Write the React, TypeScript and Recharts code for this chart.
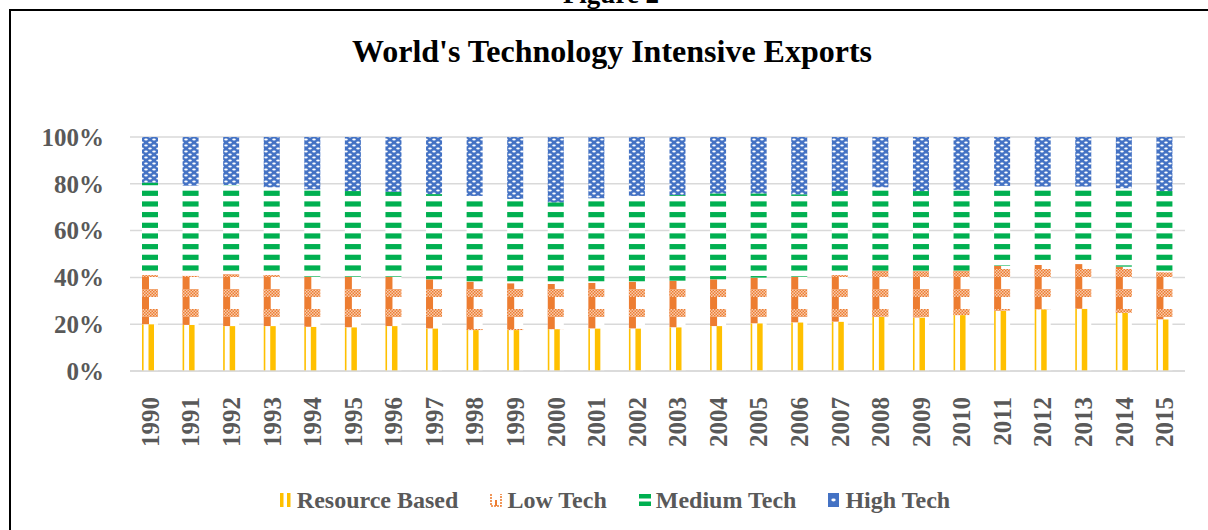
import React from "react";
import { BarChart, Bar, XAxis, YAxis, CartesianGrid } from "recharts";

const years = [
  "1990", "1991", "1992", "1993", "1994", "1995", "1996", "1997", "1998", "1999",
  "2000", "2001", "2002", "2003", "2004", "2005", "2006", "2007", "2008", "2009",
  "2010", "2011", "2012", "2013", "2014", "2015",
];

// shares in % of world exports
const resourceBased = [
  20.0, 19.7, 19.2, 19.2, 18.9, 18.7, 19.2, 18.2, 17.5, 17.5,
  17.9, 18.2, 18.2, 18.7, 19.2, 20.4, 20.8, 21.1, 23.2, 22.9,
  23.9, 25.8, 26.4, 26.6, 24.9, 22.1,
];
const lowTech = [
  21.0, 21.0, 22.2, 21.8, 21.4, 21.6, 21.1, 21.0, 20.7, 20.0,
  19.3, 19.5, 20.0, 19.9, 20.0, 19.5, 19.5, 19.9, 19.7, 19.8,
  19.0, 19.1, 18.9, 19.1, 19.7, 20.1,
];
const mediumTech = [
  39.5, 38.5, 38.1, 37.5, 37.3, 36.6, 36.3, 36.4, 36.6, 36.0,
  34.9, 36.1, 36.6, 36.6, 36.7, 36.0, 35.2, 35.9, 35.6, 34.2,
  34.5, 34.2, 33.5, 33.1, 33.5, 34.7,
];
const highTech = [
  19.5, 20.8, 20.5, 21.5, 22.4, 23.1, 23.4, 24.4, 25.2, 26.5,
  27.9, 26.2, 25.2, 24.8, 24.1, 24.1, 24.5, 23.1, 21.5, 23.1,
  22.6, 20.9, 21.2, 21.2, 21.9, 23.1,
];
const yTicks = [0, 0.2, 0.4, 0.6, 0.8, 1];

const data = years.map((year, i) => ({
  year,
  res: resourceBased[i],
  low: lowTech[i],
  med: mediumTech[i],
  high: highTech[i],
}));

const YELLOW = "#FFC000";
const ORANGE = "#ED7D31";
const GREEN = "#00B050";
const BLUE = "#4472C4";
const GREY = "#595959";
const FONT = "'Liberation Serif', 'Times New Roman', serif";

// vertical stripes
const ResShape = (p: any) => {
  const { x, y, width, height } = p;
  if (!height || height <= 0) return null;
  return (
    <g>
      <rect x={x} y={y} width={width} height={height} fill="#fff" />
      <rect x={x} y={y} width={1.6} height={height} fill={YELLOW} />
      <rect x={x + 6.5} y={y} width={5.5} height={height} fill={YELLOW} />
    </g>
  );
};

// solid column with checker bands
const LowShape = (p: any) => {
  const { x, y, width, height } = p;
  if (!height || height <= 0) return null;
  const bands = [];
  let by = 289 + 20 * Math.floor((y - 289) / 20);
  for (; by < y + height; by += 20) {
    const top = Math.max(by, y);
    const bot = Math.min(by + 8, y + height);
    if (bot > top) bands.push(<rect key={by} x={x} y={top} width={width} height={bot - top} fill="url(#chk)" />);
  }
  return (
    <g>
      <rect x={x} y={y} width={width} height={height} fill="#fff" />
      <rect x={x} y={y} width={7} height={height} fill={ORANGE} />
      {bands}
    </g>
  );
};

// horizontal dashes
const MedShape = (p: any) => {
  const { x, y, width, height } = p;
  if (!height || height <= 0) return null;
  const lines = [];
  const step = 10.67;
  let c = 193.3 + step * Math.floor((y - 193.3) / step);
  for (; c - 2.6 < y + height; c += step) {
    const top = Math.max(c - 2.6, y);
    const bot = Math.min(c + 2.6, y + height);
    if (bot > top) lines.push(<rect key={c} x={x} y={top} width={width} height={bot - top} fill={GREEN} />);
  }
  return (
    <g>
      <rect x={x} y={y} width={width} height={height} fill="#fff" />
      {lines}
    </g>
  );
};

const HighShape = (p: any) => {
  const { x, y, width, height } = p;
  if (!height || height <= 0) return null;
  return <rect x={x} y={y} width={width} height={height} fill="url(#dots)" />;
};

const XTick = (p: any) => {
  const { x, y, payload } = p;
  const ty = y + 18;
  return (
    <text
      x={x}
      y={ty}
      transform={`rotate(-90, ${x}, ${ty})`}
      textAnchor="end"
      dominantBaseline="central"
      fill={GREY}
      fontSize={25}
      fontWeight="bold"
      fontFamily={FONT}
    >
      {payload.value}
    </text>
  );
};

const legendItems = [
  { label: "Resource Based", icon: "res" },
  { label: "Low Tech", icon: "low" },
  { label: "Medium Tech", icon: "med" },
  { label: "High Tech", icon: "high" },
];

const LegendIcon = ({ kind }: { kind: string }) => (
  <svg width={12} height={14} style={{ marginRight: 5 }}>
    {kind === "res" && (
      <>
        <rect x={0} y={0} width={3.5} height={14} fill={YELLOW} />
        <rect x={7} y={0} width={3.5} height={14} fill={YELLOW} />
      </>
    )}
    {kind === "low" && (
      <>
        <rect x={0} y={0} width={12} height={14} fill="#fff" />
        <path d="M1 1 V13 H11 V1" fill="none" stroke={ORANGE} strokeWidth={1.6} strokeDasharray="2 1" />
        <rect x={5} y={7} width={2} height={6} fill={ORANGE} />
      </>
    )}
    {kind === "med" && (
      <>
        <rect x={0} y={1} width={12} height={4.5} fill={GREEN} />
        <rect x={0} y={8.5} width={12} height={4.5} fill={GREEN} />
      </>
    )}
    {kind === "high" && (
      <>
        <rect x={0} y={0} width={11} height={14} fill={BLUE} />
        <ellipse cx={5.5} cy={7} rx={2.2} ry={1.4} fill="#fff" />
      </>
    )}
  </svg>
);

export default function App() {
  return (
    <div style={{ position: "absolute", left: 0, top: 0, width: 1208, height: 530, background: "#fff", overflow: "hidden", fontFamily: FONT }}>
      <svg width={0} height={0} style={{ position: "absolute" }}>
        <defs>
          <pattern id="chk" patternUnits="userSpaceOnUse" width={3} height={3}>
            <rect x={0} y={0} width={3} height={3} fill="#F8CBAD" />
            <rect x={0} y={0} width={1.5} height={1.5} fill={ORANGE} />
            <rect x={1.5} y={1.5} width={1.5} height={1.5} fill={ORANGE} />
          </pattern>
          <pattern id="dots" patternUnits="userSpaceOnUse" width={8} height={6}>
            <rect x={0} y={0} width={8} height={6} fill={BLUE} />
            <ellipse cx={2} cy={1.5} rx={1.8} ry={0.9} fill="#fff" />
            <ellipse cx={6} cy={4.5} rx={1.8} ry={0.9} fill="#fff" />
          </pattern>
        </defs>
      </svg>

      <div style={{ position: "absolute", left: 0, top: -19, width: 1222, textAlign: "center", fontSize: 27, lineHeight: "27px", fontWeight: "bold", color: "#000" }}>
        Figure 2
      </div>
      <div style={{ position: "absolute", left: 9, top: 9, width: 1210, height: 540, borderLeft: "2.5px solid #000", borderTop: "2.5px solid #000", boxSizing: "border-box" }} />
      <div style={{ position: "absolute", left: 0, top: 35, width: 1224, textAlign: "center", fontSize: 32, lineHeight: "32px", fontWeight: "bold", color: "#000" }}>
        World's Technology Intensive Exports
      </div>

      <div style={{ position: "absolute", left: 0, top: 0 }}>
        <BarChart
          width={1208}
          height={530}
          data={data}
          stackOffset="expand"
          barSize={16}
          margin={{ top: 137, right: 23, left: 0, bottom: 0 }}
        >
          <CartesianGrid vertical={false} stroke="#d9d9d9" strokeWidth={1.5} />
          <XAxis
            dataKey="year"
            interval={0}
            height={159}
            tickLine={false}
            axisLine={{ stroke: "#d9d9d9", strokeWidth: 1.5 }}
            tick={<XTick />}
          />
          <YAxis
            width={130}
            domain={[0, 1]}
            ticks={yTicks}
            axisLine={false}
            tickLine={false}
            tickMargin={20}
            tickFormatter={(v: number) => `${Math.round(v * 100)}%`}
            tick={{ fill: GREY, fontSize: 25, fontWeight: "bold", fontFamily: FONT }}
          />
          <Bar dataKey="res" stackId="a" name="Resource Based" shape={<ResShape />} isAnimationActive={false} />
          <Bar dataKey="low" stackId="a" name="Low Tech" shape={<LowShape />} isAnimationActive={false} />
          <Bar dataKey="med" stackId="a" name="Medium Tech" shape={<MedShape />} isAnimationActive={false} />
          <Bar dataKey="high" stackId="a" name="High Tech" shape={<HighShape />} isAnimationActive={false} />
        </BarChart>
      </div>

      <div style={{ position: "absolute", left: 0, top: 485, width: 1230, display: "flex", justifyContent: "center", gap: 32, fontSize: 24, fontWeight: "bold", color: GREY, lineHeight: "30px" }}>
        {legendItems.map((it) => (
          <div key={it.label} style={{ display: "flex", alignItems: "center" }}>
            <LegendIcon kind={it.icon} />
            <span>{it.label}</span>
          </div>
        ))}
      </div>
    </div>
  );
}
